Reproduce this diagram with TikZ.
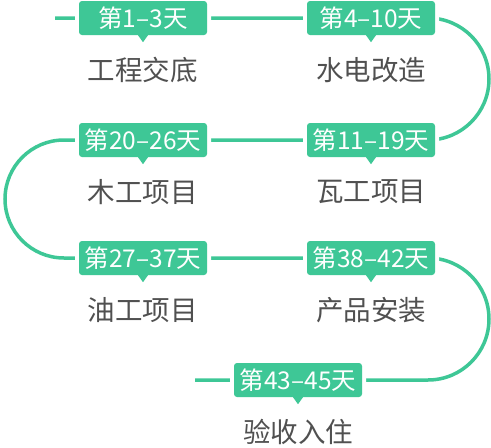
\documentclass[tikz,border=0pt]{standalone}
\usepackage{fontspec}
\setmainfont{Noto Sans CJK SC}
\usetikzlibrary{calc,positioning,backgrounds}
\definecolor{accent}{RGB}{62,199,150}
\definecolor{txt}{RGB}{80,80,80}

\begin{document}
\begin{tikzpicture}[x=1pt,y=-1pt,
     day/.style={fill=accent,text=white,rounded corners=3pt,minimum width=128pt,minimum height=34pt,inner sep=0pt,
       font=\fontsize{24.5}{26}\selectfont,preaction={draw=white,line width=8pt}},
     job/.style={text=txt,inner sep=0pt,font=\fontsize{27.5}{30}\selectfont},
     link/.style={draw=accent,line width=3.5pt}]
    \useasboundingbox (0,0) rectangle (491,448);
    % day boxes
    \node[day] (b1) at (143,18) {第1--3天};
    \node[day] (b2) at (371,18) {第4--10天};
    \node[day] (b3) at (371,140) {第11--19天};
    \node[day] (b4) at (143,140) {第20--26天};
    \node[day] (b5) at (143,258) {第27--37天};
    \node[day] (b6) at (371,258) {第38--42天};
    \node[day] (b7) at (298,380) {第43--45天};
    \foreach \n in {b1,b2,b3,b4,b5,b6,b7}
      \fill[accent] ($(\n.south)+(-5,0)$) -- ($(\n.south)+(5,0)$) -- ($(\n.south)+(0,7)$) -- cycle;
    % jobs
    \node[job,below=22pt of b1] (t1) {工程交底};
    \node[job,below=22pt of b2] (t2) {水电改造};
    \node[job,below=22pt of b3] (t3) {瓦工项目};
    \node[job,below=22pt of b4] (t4) {木工项目};
    \node[job,below=22pt of b5] (t5) {油工项目};
    \node[job,below=22pt of b6] (t6) {产品安装};
    \node[job,below=22pt of b7] (t7) {验收入住};
    % timeline
    \coordinate (s1) at (55,18);
    \coordinate (s7) at (195,380);
    \begin{scope}[on background layer]
      \draw[link] (s1) -- (b1.center) -- (b2.center) -- ++(57,0)
        arc[start angle=-90,end angle=90,radius=61] -- (b3.center) -- (b4.center) -- ++(-79,0)
        arc[start angle=-90,end angle=-270,radius=59] -- (b5.center) -- (b6.center) -- ++(57,0)
        arc[start angle=-90,end angle=90,radius=61] -- (b7.center) -- (s7);
    \end{scope}
  \end{tikzpicture}
\end{document}
